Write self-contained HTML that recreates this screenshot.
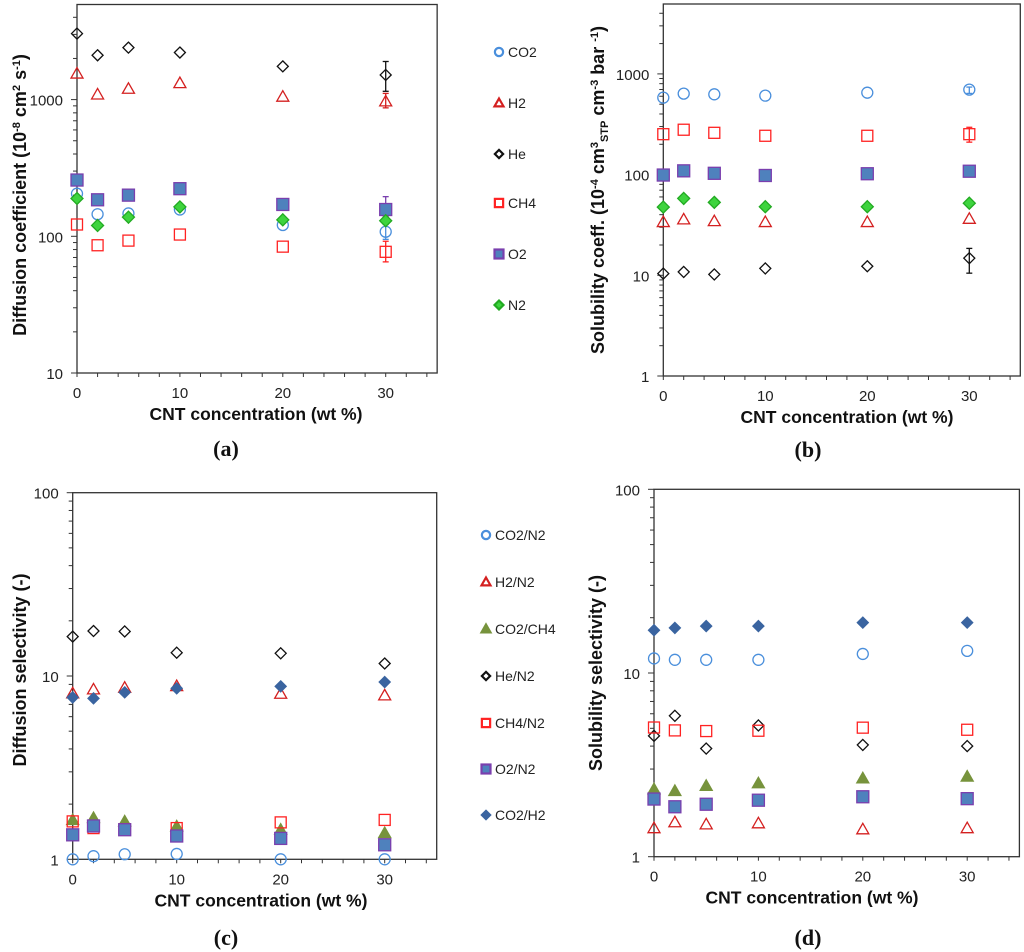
<!DOCTYPE html>
<html><head><meta charset="utf-8"><style>
html,body{margin:0;padding:0;background:#fff;}
svg{display:block;font-family:"Liberation Sans",sans-serif;}
</style></head><body>
<svg id="fig" width="1024" height="952" viewBox="0 0 1024 952" xmlns="http://www.w3.org/2000/svg">
<g id="layer"></g>
</svg>
<script>
// ---- data ----
const xCats = [0, 2, 5, 10, 20, 30];
const xTickLabels = [0, 10, 20, 30];
// panel a: diffusion coefficient
const aCO2 = [205, 145, 147, 157, 121, 108];
const aH2 = [1550, 1090, 1200, 1320, 1050, 970];
const aHe = [3040, 2110, 2400, 2210, 1750, 1515];
const aCH4 = [122, 86, 93, 103, 84, 77];
const aO2 = [258, 185, 200, 223, 171, 157];
const aN2 = [189, 120, 138, 164, 132, 130];
const aTicks = [10, 100, 1000];
const aErrHe = [null, null, null, null, null, [1150, 1900]];
const aErrH2 = [null, null, null, null, null, [870, 1110]];
const aErrCH4 = [null, null, null, null, null, [65, 92]];
const aErrCO2 = [null, null, null, null, null, [95, 122]];
const aErrO2 = [null, null, null, null, null, [140, 195]];
// panel b: solubility coefficient
const bCO2 = [581, 637, 627, 608, 651, 698];
const bH2 = [33.8, 35.9, 34.5, 33.8, 33.8, 36.4];
const bHe = [10.4, 10.8, 10.2, 11.7, 12.3, 14.8];
const bCH4 = [252, 279, 260, 243, 243, 252];
const bO2 = [99, 109, 103, 98, 102, 108];
const bN2 = [47.6, 58, 53, 48, 48, 52];
const bTicks = [1, 10, 100, 1000];
const bErrHe = [null, null, null, null, null, [10.5, 18.5]];
const bErrCH4 = [null, null, null, null, null, [210, 295]];
const bErrCO2 = [null, null, null, null, null, [640, 740]];
// panel c: diffusion selectivity
const cCO2N2 = [1.0, 1.04, 1.065, 1.07, 1.0, 1.0];
const cH2N2 = [8.04, 8.45, 8.63, 8.81, 8.0, 7.84];
const cCO2CH4 = [1.64, 1.68, 1.61, 1.51, 1.45, 1.39];
const cHeN2 = [16.4, 17.6, 17.5, 13.4, 13.3, 11.7];
const cCH4N2 = [1.61, 1.48, 1.46, 1.48, 1.59, 1.64];
const cO2N2 = [1.36, 1.52, 1.45, 1.34, 1.30, 1.2];
const cCO2H2 = [7.64, 7.55, 8.14, 8.56, 8.78, 9.27];
const cTicks = [1, 10, 100];
// panel d: solubility selectivity
const dCO2N2 = [12.0, 11.8, 11.8, 11.8, 12.7, 13.2];
const dH2N2 = [1.43, 1.54, 1.50, 1.52, 1.41, 1.43];
const dCO2CH4 = [2.33, 2.28, 2.43, 2.51, 2.67, 2.73];
const dHeN2 = [4.55, 5.85, 3.88, 5.18, 4.06, 4.0];
const dCH4N2 = [5.05, 4.87, 4.83, 4.85, 5.04, 4.91];
const dO2N2 = [2.06, 1.87, 1.93, 2.03, 2.12, 2.07];
const dCO2H2 = [17.1, 17.6, 18.0, 18.0, 18.8, 18.8];
const dTicks = [1, 10, 100];

const NS = "http://www.w3.org/2000/svg";
const layer = document.getElementById('layer');
function mk(tag, attrs, parent) {
  const e = document.createElementNS(NS, tag);
  for (const k in attrs) e.setAttribute(k, attrs[k]);
  (parent || layer).appendChild(e);
  return e;
}
const ST = {
  co2: {shape:'circle', fill:'none', stroke:'#4a8fdc', r:5.5},
  h2: {shape:'tri', fill:'none', stroke:'#d42020', r:6},
  he: {shape:'diamond', fill:'none', stroke:'#111', r:5.5},
  ch4: {shape:'square', fill:'none', stroke:'#ff2222', r:5.5},
  o2: {shape:'square', fill:'#4f81bd', stroke:'#7a3fae', r:6},
  n2: {shape:'diamond', fill:'#3ed43e', stroke:'#22aa22', r:6},
  co2ch4: {shape:'tri', fill:'#77933c', stroke:'#77933c', r:6},
  co2h2: {shape:'diamond', fill:'#3a64a0', stroke:'#3a64a0', r:5.5}
};
function marker(g, st, cx, cy, scale) {
  const r = st.r * (scale || 1);
  const sw = scale ? 2.2 : 1.3;
  let e;
  if (st.shape === 'circle') e = mk('circle', {cx, cy, r, fill:st.fill, stroke:st.stroke, 'stroke-width':sw}, g);
  else if (st.shape === 'square') e = mk('rect', {x:cx-r, y:cy-r, width:2*r, height:2*r, fill:st.fill, stroke:st.stroke, 'stroke-width':sw}, g);
  else if (st.shape === 'diamond') e = mk('polygon', {points:`${cx},${cy-r} ${cx+r},${cy} ${cx},${cy+r} ${cx-r},${cy}`, fill:st.fill, stroke:st.stroke, 'stroke-width':sw}, g);
  else e = mk('polygon', {points:`${cx},${cy-r} ${cx+r},${cy+r*0.75} ${cx-r},${cy+r*0.75}`, fill:st.fill, stroke:st.stroke, 'stroke-width':sw}, g);
  return e;
}
function panel(cfg) {
  const g = mk('g', {});
  
  
  const X = v => cfg.x0 + v * cfg.ppu;
  const Y = v => cfg.axisY - Math.log10(v / cfg.yMin) * cfg.dec;
  const right = X(35);
  const frame = mk('rect', {x:cfg.x0, y:cfg.top, width:right-cfg.x0, height:cfg.axisY-cfg.top, fill:'none', stroke:'#333', 'stroke-width':1.3}, g);
  
  
  for (let v = 0; v <= 34; v += 2) {
    mk('line', {x1:X(v), x2:X(v), y1:cfg.axisY, y2:cfg.axisY+4, stroke:'#333', 'stroke-width':1}, g);
  }
  xTickLabels.forEach(v => {
    const t = mk('text', {x:X(v), y:cfg.axisY+25, 'text-anchor':'middle', 'font-size':15, fill:'#222'}, g);
    t.textContent = v;
    
    
  });
  const topVal = cfg.yMin * Math.pow(10, (cfg.axisY - cfg.top) / cfg.dec);
  for (let d = cfg.yMin; d < topVal * 1.001; d *= 10) {
    for (let m = 1; m <= 9; m++) {
      const v = d * m;
      if (v > topVal * 1.001) break;
      mk('line', {x1:cfg.x0 - (m===1?6:4), x2:cfg.x0, y1:Y(v), y2:Y(v), stroke:'#333', 'stroke-width':1}, g);
    }
  }
  cfg.ticks.forEach(v => {
    const t = mk('text', {x:cfg.x0 - 14, y:Y(v)+6, 'text-anchor':'end', 'font-size':15, fill:'#222'}, g);
    t.textContent = v;
    
    
  });
  cfg.series.forEach(s => {
    const sg = mk('g', {}, g);
    
    
    s.vals.forEach((v, i) => {
      const cx = X(xCats[i]), cy = Y(v);
      if (s.err && s.err[i]) {
        const [lo, hi] = s.err[i];
        mk('line', {x1:cx, x2:cx, y1:Y(lo), y2:Y(hi), stroke:s.st.stroke, 'stroke-width':1.3}, sg);
        mk('line', {x1:cx-3, x2:cx+3, y1:Y(lo), y2:Y(lo), stroke:s.st.stroke, 'stroke-width':1.3}, sg);
        mk('line', {x1:cx-3, x2:cx+3, y1:Y(hi), y2:Y(hi), stroke:s.st.stroke, 'stroke-width':1.3}, sg);
      }
      const m = marker(sg, s.st, cx, cy);
      
      
    });
  });
  const xl = mk('text', {x:cfg.xlx, y:cfg.axisY+47, 'text-anchor':'middle', 'font-size':17.5, 'font-weight':'bold', fill:'#111'}, g);
  xl.textContent = 'CNT concentration (wt %)';
  
  
  const yl = mk('text', {x:0, y:0, transform:`translate(${cfg.ylx},${cfg.yly}) rotate(-90)`, 'text-anchor':'middle', 'font-size':18, 'font-weight':'bold', fill:'#111'}, g);
  yl.innerHTML = cfg.ytitle;
  
  
  const cap = mk('text', {x:cfg.capx, y:cfg.capy, 'text-anchor':'middle', 'font-size':22, 'font-weight':'bold', 'font-family':'Liberation Serif, serif', fill:'#111'}, g);
  cap.textContent = cfg.cap;
  
  
}
function legend(name, x, ys, items) {
  const g = mk('g', {});
  
  
  items.forEach((it, i) => {
    const eg = mk('g', {}, g);
    
    
    marker(eg, it[1], x, ys[i], 0.75);
    const t = mk('text', {x:x+9, y:ys[i]+5, 'font-size':14, fill:'#222'}, eg);
    t.textContent = it[0];
  });
}
panel({name:'panel-a', x0:77, ppu:10.29, axisY:373, yMin:10, dec:136.7, top:4.5, ticks:aTicks,
  xlx:256, ylx:26, yly:195, capx:226, capy:456, cap:'(a)',
  ytitle:'Diffusion coefficient (10<tspan dy="-6" font-size="11">-8</tspan><tspan dy="6"> cm</tspan><tspan dy="-6" font-size="11">2</tspan><tspan dy="6"> s</tspan><tspan dy="-6" font-size="11">-1</tspan><tspan dy="6">)</tspan>',
  series:[
    {key:'co2', vals:aCO2, st:ST.co2, err:aErrCO2},
    {key:'h2', vals:aH2, st:ST.h2, err:aErrH2},
    {key:'he', vals:aHe, st:ST.he, err:aErrHe},
    {key:'ch4', vals:aCH4, st:ST.ch4, err:aErrCH4},
    {key:'o2', vals:aO2, st:ST.o2, err:aErrO2},
    {key:'n2', vals:aN2, st:ST.n2}
  ]});
panel({name:'panel-b', x0:663.3, ppu:10.2, axisY:376, yMin:1, dec:100.7, top:4, ticks:bTicks,
  xlx:847, ylx:604, yly:190, capx:808, capy:457, cap:'(b)',
  ytitle:'Solubility coeff. (10<tspan dy="-6" font-size="11">-4</tspan><tspan dy="6"> cm</tspan><tspan dy="-6" font-size="11">3</tspan><tspan dy="10" font-size="11">STP</tspan><tspan dy="-4"> cm</tspan><tspan dy="-6" font-size="11">-3</tspan><tspan dy="6"> bar </tspan><tspan dy="-6" font-size="11">-1</tspan><tspan dy="6">)</tspan>',
  series:[
    {key:'co2', vals:bCO2, st:ST.co2, err:bErrCO2},
    {key:'h2', vals:bH2, st:ST.h2},
    {key:'he', vals:bHe, st:ST.he, err:bErrHe},
    {key:'ch4', vals:bCH4, st:ST.ch4, err:bErrCH4},
    {key:'o2', vals:bO2, st:ST.o2},
    {key:'n2', vals:bN2, st:ST.n2}
  ]});
panel({name:'panel-c', x0:72.7, ppu:10.4, axisY:859.3, yMin:1, dec:183.3, top:492.7, ticks:cTicks,
  xlx:261, ylx:26, yly:670, capx:226, capy:945, cap:'(c)',
  ytitle:'Diffusion selectivity (-)',
  series:[
    {key:'co2-n2', vals:cCO2N2, st:ST.co2},
    {key:'h2-n2', vals:cH2N2, st:ST.h2},
    {key:'co2-ch4', vals:cCO2CH4, st:ST.co2ch4},
    {key:'he-n2', vals:cHeN2, st:ST.he},
    {key:'ch4-n2', vals:cCH4N2, st:ST.ch4},
    {key:'o2-n2', vals:cO2N2, st:ST.o2},
    {key:'co2-h2', vals:cCO2H2, st:ST.co2h2}
  ]});
panel({name:'panel-d', x0:654, ppu:10.44, axisY:856.7, yMin:1, dec:183.7, top:489.3, ticks:dTicks,
  xlx:812, ylx:602, yly:673, capx:808, capy:945, cap:'(d)',
  ytitle:'Solubility selectivity (-)',
  series:[
    {key:'co2-n2', vals:dCO2N2, st:ST.co2},
    {key:'h2-n2', vals:dH2N2, st:ST.h2},
    {key:'co2-ch4', vals:dCO2CH4, st:ST.co2ch4},
    {key:'he-n2', vals:dHeN2, st:ST.he},
    {key:'ch4-n2', vals:dCH4N2, st:ST.ch4},
    {key:'o2-n2', vals:dO2N2, st:ST.o2},
    {key:'co2-h2', vals:dCO2H2, st:ST.co2h2}
  ]});
legend('legend-top', 499, [52,103,154,203,254,305],
  [['CO2',ST.co2],['H2',ST.h2],['He',ST.he],['CH4',ST.ch4],['O2',ST.o2],['N2',ST.n2]]);
legend('legend-bottom', 486, [535,582,629,676,723,769,815],
  [['CO2/N2',ST.co2],['H2/N2',ST.h2],['CO2/CH4',ST.co2ch4],['He/N2',ST.he],['CH4/N2',ST.ch4],['O2/N2',ST.o2],['CO2/H2',ST.co2h2]]);
</script>
</body></html>
